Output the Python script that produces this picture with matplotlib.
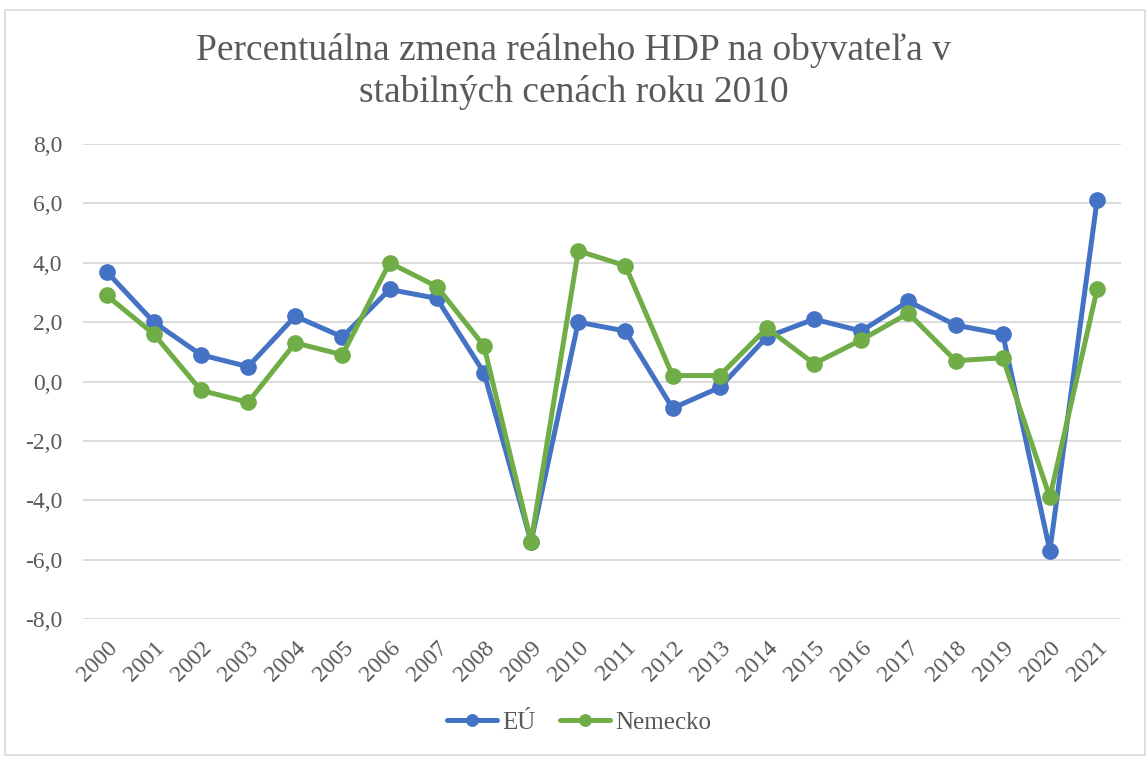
import matplotlib
matplotlib.use('Agg')
import matplotlib.pyplot as plt
from matplotlib.ticker import FuncFormatter
from matplotlib.patches import Rectangle

# Data
years = [str(y) for y in range(2000, 2022)]
eu = [3.7, 2.0, 0.9, 0.5, 2.2, 1.5, 3.1, 2.8, 0.3, -5.4, 2.0,
      1.7, -0.9, -0.2, 1.5, 2.1, 1.7, 2.7, 1.9, 1.6, -5.7, 6.1]
nemecko = [2.9, 1.6, -0.3, -0.7, 1.3, 0.9, 4.0, 3.2, 1.2, -5.4, 4.4,
           3.9, 0.2, 0.2, 1.8, 0.6, 1.4, 2.3, 0.7, 0.8, -3.9, 3.1]
title = "Percentuálna zmena reálneho HDP na obyvateľa v\nstabilných cenách roku 2010"

text_color = '#595959'
plt.rcParams['font.family'] = ['Liberation Serif', 'DejaVu Serif']

fig = plt.figure(figsize=(11.47, 7.58), dpi=100)
ax = fig.add_axes([0.0724, 0.1834, 0.9046, 0.6266])

# Outer chart border
fig.patches.append(Rectangle((0.004, 0.004), 0.994, 0.983, transform=fig.transFigure,
                             fill=False, edgecolor='#d9d9d9', linewidth=1.2))

x = range(len(years))
ax.plot(x, eu, color='#4472C4', linewidth=3.6, marker='o', markersize=11,
        label='EÚ', solid_capstyle='round', zorder=3)
ax.plot(x, nemecko, color='#70AD47', linewidth=3.6, marker='o', markersize=11,
        label='Nemecko', solid_capstyle='round', zorder=4)

ax.set_xlim(-0.5, len(years) - 0.5)
ax.set_ylim(-8, 8)
ax.set_yticks(range(-8, 9, 2))
ax.yaxis.set_major_formatter(FuncFormatter(lambda v, p: f"{v:.1f}".replace('.', ',')))
ax.set_xticks(list(x))
ax.set_xticklabels(years, rotation=45, ha='right', rotation_mode='anchor')

ax.grid(axis='y', color='#d9d9d9', linewidth=1.3)
ax.set_axisbelow(True)
for s in ax.spines.values():
    s.set_visible(False)
ax.tick_params(axis='both', length=0, labelsize=17, colors=text_color)
ax.tick_params(axis='y', pad=15)
ax.tick_params(axis='x', pad=13)

fig.text(0.5, 0.906, title, ha='center', va='center', fontsize=27,
         color=text_color, linespacing=1.25)

fig.legend(loc='center', bbox_to_anchor=(0.505, 0.047), ncol=2, frameon=False,
           fontsize=18, labelcolor=text_color, handlelength=2.0, markerscale=0.75,
           columnspacing=1.0, handletextpad=0.2)

fig.savefig('out.png', dpi=100)
